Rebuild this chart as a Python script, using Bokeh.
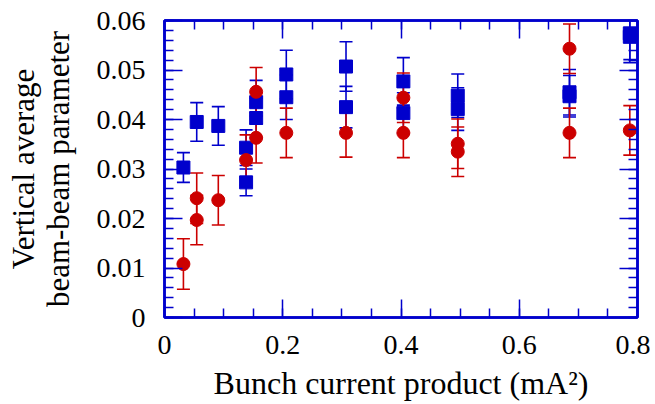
from bokeh.plotting import figure
from bokeh.models import (ColumnDataSource, Whisker, TeeHead, LinearAxis, Range1d,
                          SingleIntervalTicker, NumeralTickFormatter, CustomJSTickFormatter)
from bokeh.embed import file_html
from bokeh.resources import INLINE

# ---- data ----
blue_x = [0.032, 0.0545, 0.091, 0.138, 0.138, 0.155, 0.155, 0.206, 0.206, 0.307, 0.307,
          0.404, 0.404, 0.496, 0.496, 0.685, 0.685, 0.787, 0.787]
blue_y = [0.0303, 0.0395, 0.0387, 0.0343, 0.0273, 0.0435, 0.0403, 0.0491, 0.0445, 0.0507, 0.0425,
          0.0477, 0.0413, 0.0448, 0.0421, 0.0455, 0.0447, 0.0574, 0.0567]
blue_err = [0.0030, 0.0039, 0.0039, 0.0036, 0.0027, 0.0044, 0.0040, 0.0049, 0.0045, 0.0050, 0.0042,
            0.0048, 0.0041, 0.0044, 0.0043, 0.0046, 0.0042, 0.0053, 0.0052]

red_x = [0.032, 0.0545, 0.0545, 0.091, 0.138, 0.155, 0.155, 0.206, 0.307,
         0.404, 0.404, 0.496, 0.496, 0.685, 0.685, 0.787]
red_y = [0.0108, 0.0241, 0.0197, 0.0237, 0.0318, 0.0456, 0.0363, 0.0373, 0.0373,
         0.0444, 0.0373, 0.0351, 0.0335, 0.0543, 0.0373, 0.0378]
red_err = [0.0051, 0.0051, 0.0050, 0.0050, 0.0051, 0.0049, 0.0051, 0.0050, 0.0049,
           0.0050, 0.0050, 0.0050, 0.0050, 0.0050, 0.0050, 0.0050]

x_label = "Bunch current product (mA²)"
y_label = "Vertical average\nbeam-beam parameter"

BLUE = "#0000cc"
RED = "#cc0000"
FONT = "Liberation Serif"

p = figure(width=650, height=403, output_backend="svg", toolbar_location=None,
           x_range=Range1d(0, 0.8), y_range=Range1d(0, 0.06),
           min_border_left=164, min_border_right=13, min_border_top=20, min_border_bottom=83)
p.background_fill_color = "white"
p.border_fill_color = "white"
p.grid.visible = False
p.outline_line_color = BLUE
p.outline_line_width = 2.5

def style_axis(ax):
    ax.axis_line_color = BLUE
    ax.axis_line_width = 2.5
    ax.major_tick_line_color = BLUE
    ax.minor_tick_line_color = BLUE
    ax.major_tick_line_width = 1.5
    ax.minor_tick_line_width = 1.5
    ax.major_tick_in = 18
    ax.major_tick_out = 0
    ax.minor_tick_in = 9
    ax.minor_tick_out = 0
    ax.major_label_text_font = FONT
    ax.major_label_text_color = "black"
    ax.major_label_text_font_size = "28px"
    ax.axis_label_text_font = FONT
    ax.axis_label_text_font_style = "normal"
    ax.axis_label_text_color = "black"

fmt = NumeralTickFormatter(format="0.[00]")

p.xaxis.ticker = SingleIntervalTicker(interval=0.2, num_minor_ticks=4)
p.yaxis.ticker = SingleIntervalTicker(interval=0.01, num_minor_ticks=5)
p.xaxis.formatter = fmt
p.yaxis.formatter = fmt
for ax in p.xaxis + p.yaxis:
    style_axis(ax)
p.xaxis.axis_label = x_label
p.yaxis.axis_label = y_label
p.xaxis.axis_label_text_font_size = "32px"
p.yaxis.axis_label_text_font_size = "31px"
p.xaxis.major_label_standoff = 18
p.yaxis.major_label_standoff = 19
p.xaxis.axis_label_standoff = 8
p.yaxis.axis_label_standoff = 18
p.yaxis.axis_label_text_line_height = 0.98

blank = CustomJSTickFormatter(code="return '';")
top = LinearAxis(ticker=SingleIntervalTicker(interval=0.2, num_minor_ticks=4), formatter=blank)
right = LinearAxis(ticker=SingleIntervalTicker(interval=0.01, num_minor_ticks=5), formatter=blank)
for ax in (top, right):
    style_axis(ax)
    ax.major_label_standoff = 0
p.add_layout(top, "above")
p.add_layout(right, "right")

# blue series
bsrc = ColumnDataSource(dict(x=blue_x, y=blue_y,
                             lo=[y - e for y, e in zip(blue_y, blue_err)],
                             hi=[y + e for y, e in zip(blue_y, blue_err)]))
bw = Whisker(source=bsrc, base="x", lower="lo", upper="hi",
             line_color=BLUE, line_width=1.6,
             upper_head=TeeHead(size=13, line_color=BLUE, line_width=1.6),
             lower_head=TeeHead(size=13, line_color=BLUE, line_width=1.6))
p.add_layout(bw)
p.scatter("x", "y", source=bsrc, marker="square", size=13,
          fill_color=BLUE, line_color=BLUE)

# red series
rsrc = ColumnDataSource(dict(x=red_x, y=red_y,
                             lo=[y - e for y, e in zip(red_y, red_err)],
                             hi=[y + e for y, e in zip(red_y, red_err)]))
rw = Whisker(source=rsrc, base="x", lower="lo", upper="hi",
             line_color=RED, line_width=1.6,
             upper_head=TeeHead(size=13, line_color=RED, line_width=1.6),
             lower_head=TeeHead(size=13, line_color=RED, line_width=1.6))
p.add_layout(rw)
p.scatter("x", "y", source=rsrc, marker="circle", size=13,
          fill_color=RED, line_color=RED)

open("out.html", "w").write(file_html(p, INLINE))
